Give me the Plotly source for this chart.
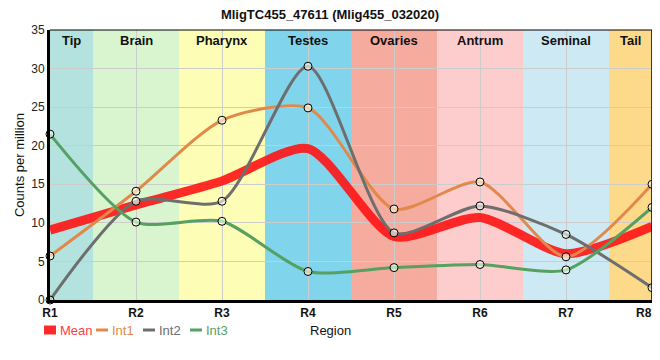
import plotly.graph_objects as go

regions = ["R1", "R2", "R3", "R4", "R5", "R6", "R7", "R8"]
int1 = [5.7, 14.1, 23.3, 24.9, 11.8, 15.3, 5.6, 15.0]
int2 = [0.0, 12.8, 12.8, 30.3, 8.7, 12.2, 8.5, 1.6]
int3 = [21.5, 10.1, 10.2, 3.7, 4.2, 4.6, 3.9, 12.0]
mean = [(a + b + c) / 3 for a, b, c in zip(int1, int2, int3)]

tissues = ["Tip", "Brain", "Pharynx", "Testes", "Ovaries", "Antrum", "Seminal", "Tail"]
tissue_colors = ["#b3e2df", "#d8f5cf", "#fdfdb5", "#80d5ec", "#f5ab9e", "#fdcccc", "#cdeaf4", "#fdda8a"]

mean_color = "rgba(255,20,20,0.9)"
series = [("Int1", int1, "#e0894a"), ("Int2", int2, "#6e6e6e"), ("Int3", int3, "#56a062")]

xs = list(range(len(regions)))
fig = go.Figure()

shapes = []
annotations = []
for i, (t, c) in enumerate(zip(tissues, tissue_colors)):
    x0 = max(i - 0.5, 0)
    x1 = min(i + 0.5, len(regions) - 1)
    shapes.append(dict(type="rect", xref="x", yref="paper", x0=x0, x1=x1, y0=0, y1=1,
                       fillcolor=c, line=dict(width=0), layer="below"))
    annotations.append(dict(x=(x0 + x1) / 2, y=1, xref="x", yref="paper", text="<b>%s</b>" % t,
                            showarrow=False, yanchor="top", yshift=-1,
                            font=dict(size=13, color="#111111")))

SM = 0.7
fig.add_trace(go.Scatter(x=xs, y=mean, mode="lines",
                         line=dict(color=mean_color, width=9, shape="spline", smoothing=SM),
                         showlegend=False))
for name, vals, col in series:
    fig.add_trace(go.Scatter(x=xs, y=vals, mode="lines+markers",
                             line=dict(color=col, width=3, shape="spline", smoothing=SM),
                             marker=dict(size=8, color="rgba(255,255,240,0.6)", line=dict(color="black", width=1)),
                             cliponaxis=False, showlegend=False))

# page has an 8px body margin; plot area spans page x 50..652, y 30..300
pw, ph = 602.0, 270.0
def px_x(p):
    return (p - 50) / pw
def px_y(p):
    return (300 - p) / ph

ly = 330
legend_items = [("Mean", "#ff4040", mean_color, 9, 44, 56),
                ("Int1", series[0][2], series[0][2], 3, 96, 108),
                ("Int2", series[1][2], series[1][2], 3, 143, 155),
                ("Int3", series[2][2], series[2][2], 3, 190, 202)]
for name, tcol, lcol, lw, sx0, sx1 in legend_items:
    shapes.append(dict(type="line", xref="paper", yref="paper", x0=px_x(sx0), x1=px_x(sx1),
                       y0=px_y(ly), y1=px_y(ly), line=dict(color=lcol, width=lw)))
    annotations.append(dict(x=px_x(sx1 + 2), y=px_y(ly), xref="paper", yref="paper", text=name,
                            showarrow=False, xanchor="left", yanchor="middle",
                            font=dict(size=13, color=tcol)))

annotations.append(dict(x=px_x(330), y=px_y(331), xref="paper", yref="paper", text="Region", showarrow=False,
                        yanchor="middle", font=dict(size=13, color="#111111")))

# last tick label pushed inside the window (as in the reference)
tick_text = ["<b>%s</b>" % r for r in regions]
tick_text[-1] = ""
annotations.append(dict(x=px_x(654), y=0, xref="paper", yref="paper", text="<b>%s</b>" % regions[-1],
                        showarrow=False, xanchor="right", yanchor="top", yshift=-4,
                        font=dict(size=12, color="#111111")))

shapes.append(dict(type="line", xref="paper", yref="paper", x0=1, x1=1, y0=0, y1=1, line=dict(color="black", width=1.5)))
shapes.append(dict(type="line", xref="paper", yref="paper", x0=0, x1=1, y0=1, y1=1, line=dict(color="black", width=1)))

fig.update_layout(
    width=652, height=344,
    margin=dict(l=42, r=8, t=22, b=52, autoexpand=False),
    paper_bgcolor="white", plot_bgcolor="white",
    font=dict(family="Liberation Sans, Arial, sans-serif", size=12, color="#222222"),
    title=dict(text="<b>MligTC455_47611 (Mlig455_032020)</b>", x=px_x(330), xref="paper", xanchor="center",
               y=1, yanchor="top", pad=dict(t=2), font=dict(size=13, color="#111111")),
    shapes=shapes,
    annotations=annotations,
    showlegend=False,
    xaxis=dict(tickmode="array", tickvals=xs, ticktext=tick_text,
               range=[0, len(regions) - 1], showgrid=True, gridcolor="#cccccc", gridwidth=1,
               showline=True, linecolor="black", linewidth=3, zeroline=False, automargin=False,
               ticks="", tickfont=dict(size=12, color="#111111"), layer="above traces"),
    yaxis=dict(range=[0, 35], dtick=5, showgrid=True, gridcolor="#cccccc", gridwidth=1,
               showline=True, linecolor="black", linewidth=3, zeroline=False, automargin=False,
               ticks="", tickfont=dict(size=12, color="#222222"),
               title=dict(text="Counts per million", font=dict(size=13, color="#111111"), standoff=4)),
)

fig.write_html("out.html")
